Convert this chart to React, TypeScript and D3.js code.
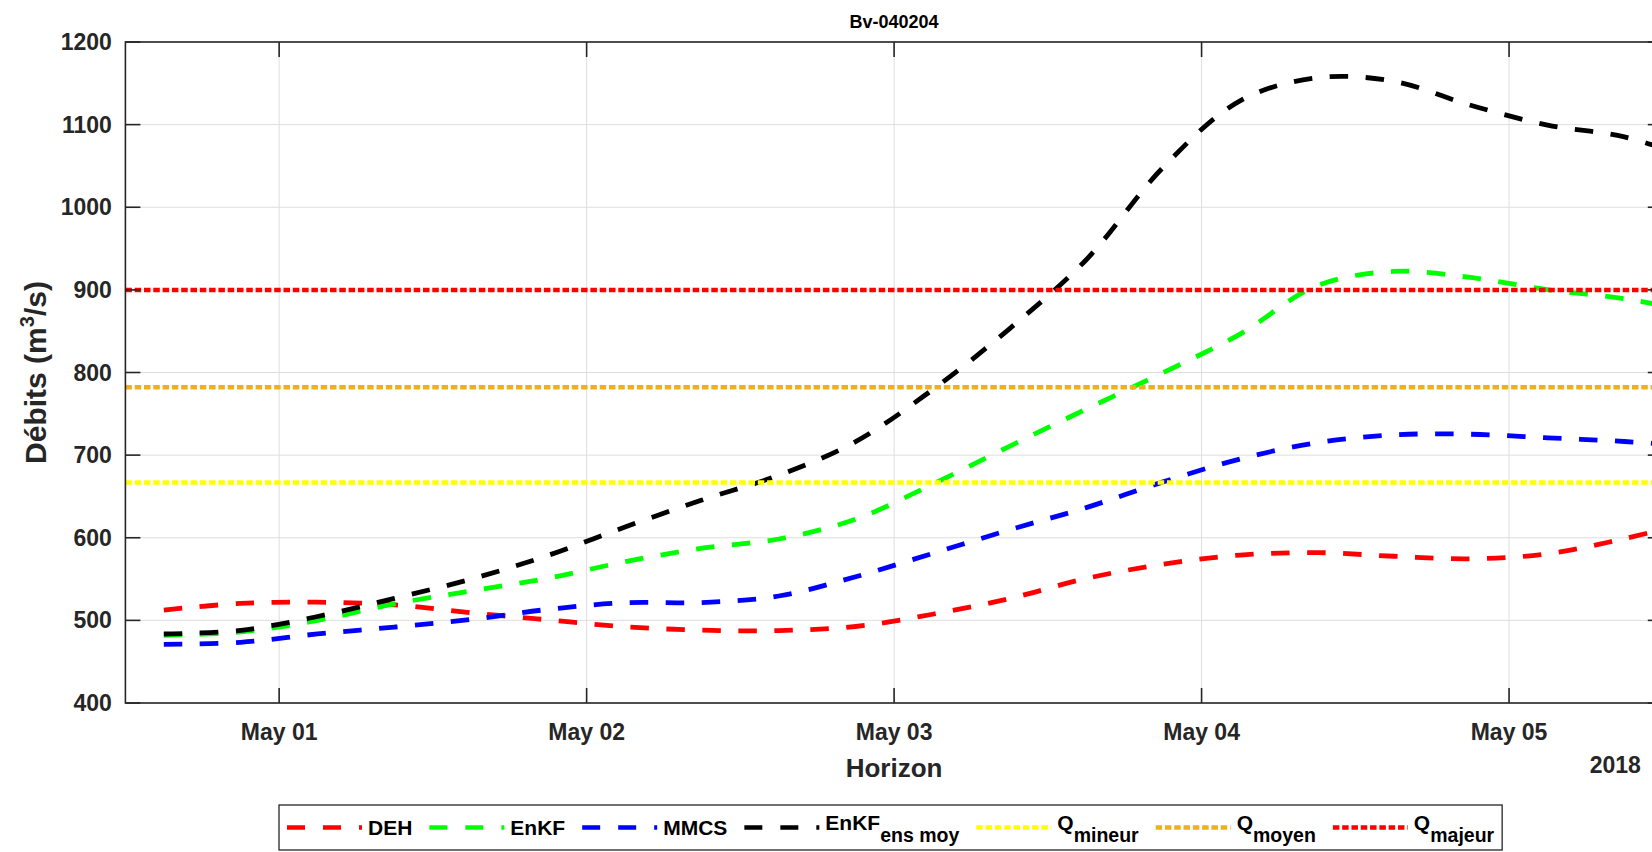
import React, { useEffect, useRef } from "react";
import * as d3 from "d3";

// ---------- data ----------
const title = "Bv-040204";
const timeStrings = [
  "2018-04-30T15:00", "2018-04-30T21:00", "2018-05-01T03:00", "2018-05-01T09:00",
  "2018-05-01T15:00", "2018-05-01T21:00", "2018-05-02T03:00", "2018-05-02T09:00",
  "2018-05-02T15:00", "2018-05-02T21:00", "2018-05-03T03:00", "2018-05-03T09:00",
  "2018-05-03T15:00", "2018-05-03T21:00", "2018-05-04T03:00", "2018-05-04T09:00",
  "2018-05-04T15:00", "2018-05-04T21:00", "2018-05-05T03:00", "2018-05-05T09:00",
  "2018-05-05T15:00",
];
const deh = [512.5, 520.5, 522, 518.8, 509.2, 500.6, 492.3, 488.1, 487.7, 492.6, 507.4, 526.4, 550.7, 568, 579, 582, 577.6, 574.5, 580.5, 598.9, 622];
const enkf = [482, 486, 500, 520, 535.7, 551, 571, 587.3, 598.5, 622.5, 664.7, 710.7, 755.7, 799.8, 846.5, 904.9, 922.3, 915, 900.2, 889.3, 872];
const mmcs = [471, 473.5, 483.6, 491.9, 501.1, 513.3, 521.3, 521.6, 529.5, 552.8, 581, 609.5, 636.5, 667.6, 695.3, 715, 724.5, 725.3, 721, 716.5, 710];
const enkfEnsMoy = [483.5, 488, 504.7, 526.7, 550, 578.7, 613, 645.6, 675.7, 716.3, 779.2, 852.9, 936.5, 1048.3, 1128.8, 1156.6, 1152.4, 1123.4, 1099.5, 1085.2, 1055];
const qMineur = 667;
const qMoyen = 782;
const qMajeur = 900;
const yTicks = [400, 500, 600, 700, 800, 900, 1000, 1100, 1200];
const xTickStrings = ["2018-05-01T00:00", "2018-05-02T00:00", "2018-05-03T00:00", "2018-05-04T00:00", "2018-05-05T00:00"];
const xDomainStrings = ["2018-04-30T12:00", "2018-05-05T12:00"];
const yearLabel = "2018";
const xLabel = "Horizon";

const seriesNames = ["DEH", "EnKF", "MMCS", "EnKF"];
const seriesSubs = ["", "", "", "ens moy"];
const seriesColors = ["#ff0000", "#00ff00", "#0000ff", "#000000"];
const seriesValues = [deh, enkf, mmcs, enkfEnsMoy];
const qValues = [qMineur, qMoyen, qMajeur];
const qSubs = ["mineur", "moyen", "majeur"];
const qColors = ["#ffff00", "#edb120", "#ff0000"];

// ---------- layout ----------
const W = 1652, H = 852;
const L = 125.4, R = 1662.8, T = 42, B = 703;
const FONT = "'Liberation Sans', Arial, Helvetica, sans-serif";
const AX = "#262626";

export default function App() {
  const ref = useRef<SVGSVGElement>(null);
  useEffect(() => {
    const svg = d3.select(ref.current as SVGSVGElement);
    svg.selectAll("*").remove();
    const parse = d3.timeParse("%Y-%m-%dT%H:%M");
    const times = timeStrings.map((s) => parse(s) as Date);
    const xTicks = xTickStrings.map((s) => parse(s) as Date);
    const x = d3.scaleTime().domain(xDomainStrings.map((s) => parse(s) as Date)).range([L, R]);
    const y = d3.scaleLinear().domain([400, 1200]).range([B, T]);

    svg.append("rect").attr("width", W).attr("height", H).attr("fill", "#fff");
    svg.append("defs").append("clipPath").attr("id", "plotclip")
      .append("rect").attr("x", L).attr("y", T).attr("width", R - L).attr("height", B - T);

    // grid
    const grid = svg.append("g").attr("stroke", "#dedede").attr("stroke-width", 1);
    yTicks.forEach((t) => grid.append("line").attr("x1", L).attr("x2", R).attr("y1", y(t)).attr("y2", y(t)));
    xTicks.forEach((t) => grid.append("line").attr("x1", x(t)).attr("x2", x(t)).attr("y1", T).attr("y2", B));

    const plot = svg.append("g").attr("clip-path", "url(#plotclip)");
    const line = d3.line<number>()
      .x((_, i) => x(times[i]))
      .y((d) => y(d))
      .curve(d3.curveCatmullRom.alpha(0.5));
    seriesValues.forEach((vals, i) => {
      plot.append("path").attr("d", line(vals) as string).attr("fill", "none")
        .attr("stroke", seriesColors[i]).attr("stroke-width", 4.8)
        .attr("stroke-dasharray", "18.5 17.5");
    });
    qValues.forEach((q, i) => {
      plot.append("line").attr("x1", L).attr("x2", R).attr("y1", y(q)).attr("y2", y(q))
        .attr("stroke", qColors[i]).attr("stroke-width", 4.5).attr("stroke-dasharray", "6.5 2.8");
    });

    // axes box + ticks
    const ax = svg.append("g").attr("stroke", AX).attr("stroke-width", 1.6).attr("fill", "none");
    ax.append("rect").attr("x", L).attr("y", T).attr("width", R - L).attr("height", B - T);
    const tl = 15;
    yTicks.forEach((t) => {
      ax.append("line").attr("x1", L).attr("x2", L + tl).attr("y1", y(t)).attr("y2", y(t));
      ax.append("line").attr("x1", R).attr("x2", R - tl).attr("y1", y(t)).attr("y2", y(t));
    });
    xTicks.forEach((t) => {
      ax.append("line").attr("x1", x(t)).attr("x2", x(t)).attr("y1", B).attr("y2", B - tl);
      ax.append("line").attr("x1", x(t)).attr("x2", x(t)).attr("y1", T).attr("y2", T + tl);
    });

    const txt = svg.append("g").attr("font-family", FONT).attr("font-weight", "bold").attr("fill", AX);
    yTicks.forEach((t) => {
      txt.append("text").attr("x", L - 13.5).attr("y", y(t)).attr("dy", "0.35em")
        .attr("text-anchor", "end").attr("font-size", 23).text(String(t));
    });
    const fmt = d3.timeFormat("%b %d");
    xTicks.forEach((t) => {
      txt.append("text").attr("x", x(t)).attr("y", 739.5).attr("text-anchor", "middle")
        .attr("font-size", 23).text(fmt(t));
    });
    txt.append("text").attr("x", R - 22).attr("y", 772.7).attr("text-anchor", "end")
      .attr("font-size", 23).text(yearLabel);
    txt.append("text").attr("x", (L + R) / 2).attr("y", 777).attr("text-anchor", "middle")
      .attr("font-size", 26).text(xLabel);
    const yl = txt.append("text").attr("transform", `translate(46,${(T + B) / 2}) rotate(-90)`)
      .attr("text-anchor", "middle").attr("font-size", 30);
    yl.append("tspan").text("Débits (m");
    yl.append("tspan").attr("font-size", 20).attr("dy", -12).text("3");
    yl.append("tspan").attr("dy", 12).text("/s)");
    txt.append("text").attr("x", (L + R) / 2).attr("y", 27.5).attr("text-anchor", "middle")
      .attr("font-size", 18).attr("fill", "#000").text(title);

    // legend
    const lg = svg.append("g");
    const box = lg.append("rect").attr("x", 279).attr("y", 805).attr("height", 45)
      .attr("fill", "#fff").attr("stroke", AX).attr("stroke-width", 1.3);
    let cx = 287;
    const ly = 827.5, base = 835.3;
    const addItem = (color: string, dash: string, main: string, sub: string) => {
      lg.append("line").attr("x1", cx).attr("x2", cx + 75).attr("y1", ly).attr("y2", ly)
        .attr("stroke", color).attr("stroke-width", 4.5).attr("stroke-dasharray", dash);
      const t = lg.append("text").attr("x", cx + 81).attr("y", sub ? base - 5 : base)
        .attr("font-family", FONT).attr("font-weight", "bold").attr("font-size", 21).attr("fill", "#000");
      t.append("tspan").text(main);
      if (sub) t.append("tspan").attr("dy", 12).attr("font-size", 19.5).text(sub);
      const w = (t.node() as SVGTextElement).getComputedTextLength();
      cx = cx + 81 + w + 17;
    };
    seriesNames.forEach((n, i) => addItem(seriesColors[i], "18 18", n, seriesSubs[i]));
    qSubs.forEach((s, i) => addItem(qColors[i], "6.5 2.8", "Q", s));
    box.attr("width", cx - 17 + 8 - 279);
  }, []);
  return (
    <svg ref={ref} width={W} height={H}
      style={{ position: "absolute", left: 0, top: 0, display: "block" }} />
  );
}
